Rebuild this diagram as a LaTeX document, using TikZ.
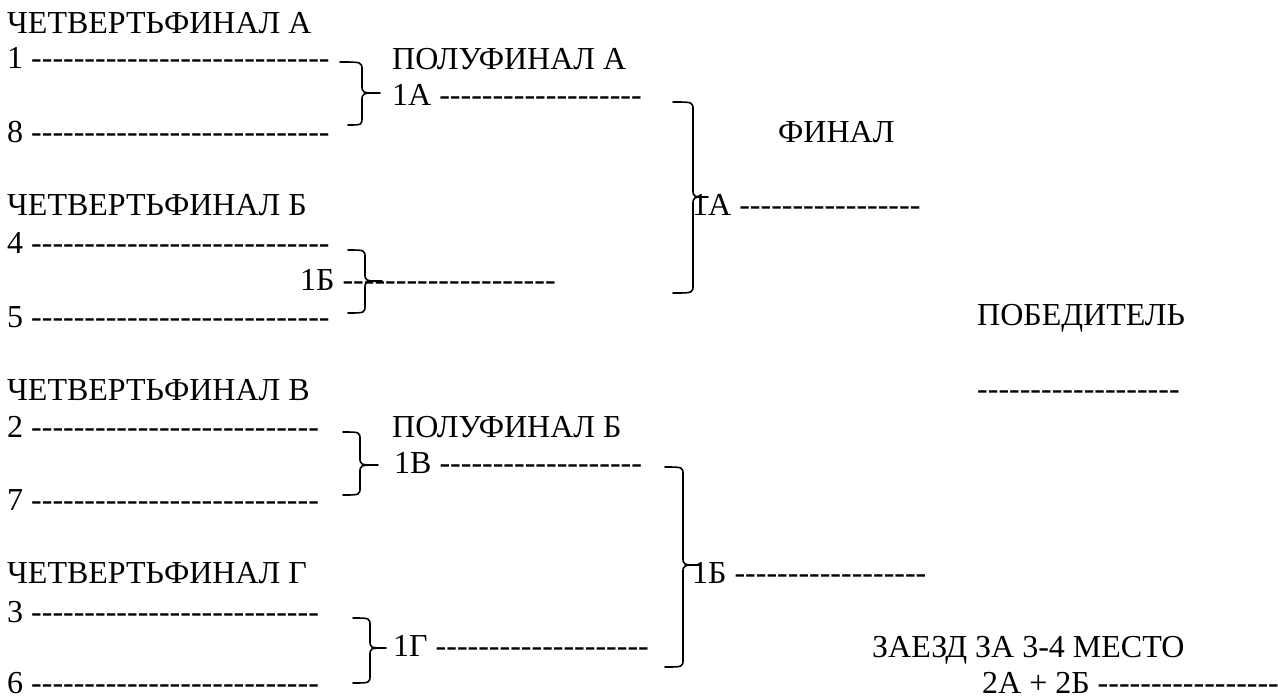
\documentclass[tikz,border=0pt]{standalone}
\usepackage{fontspec}
\setmainfont{Liberation Serif}[Ligatures=TeXOff]
\usetikzlibrary{calc}
\tikzset{
  lbl/.style={anchor=base west, inner sep=0pt, font=\fontsize{32}{38}\selectfont},
  brk/.style={line width=1.6pt, line cap=round, line join=round}
}
% right brace: top end, tip, bottom end, tip length
\newcommand\bracketR[4]{%
  \draw[brk] let \p1=(#1), \p2=(#2), \p3=(#3), \n1={\x2-#4} in
    (\p1) .. controls (\n1,\y1) .. (\n1,\y1-8pt)
    -- (\n1,\y2+8pt) .. controls (\n1,\y2) .. (\p2)
    .. controls (\n1,\y2) .. (\n1,\y2-8pt)
    -- (\n1,\y3+8pt) .. controls (\n1,\y3) .. (\p3);}
\begin{document}
\begin{tikzpicture}[x=1pt,y=-1pt]
		\useasboundingbox (0,0) rectangle (1278,697);
		%quarter finals
		\node[lbl] (qfA) at (7,33) {ЧЕТВЕРТЬФИНАЛ А};
		\node[lbl] (r1) at (7,68) {1 ----------------------------};
		\node[lbl] (r8) at (7,142) {8 ----------------------------};
		\node[lbl] (qfB) at (7,215) {ЧЕТВЕРТЬФИНАЛ Б};
		\node[lbl] (r4) at (7,253) {4 ----------------------------};
		\node[lbl] (r5) at (7,327) {5 ----------------------------};
		\node[lbl] (qfV) at (7,400) {ЧЕТВЕРТЬФИНАЛ В};
		\node[lbl] (r2) at (7,437) {2 ---------------------------};
		\node[lbl] (r7) at (7,510) {7 ---------------------------};
		\node[lbl] (qfG) at (7,583) {ЧЕТВЕРТЬФИНАЛ Г};
		\node[lbl] (r3) at (7,622) {3 ---------------------------};
		\node[lbl] (r6) at (7,693) {6 ---------------------------};
		%semi finals
		\node[lbl] (sfA) at (392,69) {ПОЛУФИНАЛ А};
		\node[lbl] (w1A) at (392,105) {1А -------------------};
		\node[lbl] (w1B) at (300,290) {1Б --------------------};
		\node[lbl] (sfB) at (392,437) {ПОЛУФИНАЛ Б};
		\node[lbl] (w1V) at (394,473) {1В -------------------};
		\node[lbl] (w1G) at (393,656) {1Г --------------------};
		%final
		\node[lbl] (fin) at (778,142) {ФИНАЛ};
		\node[lbl] (f1A) at (692,215) {1А -----------------};
		\node[lbl] (f1B) at (692,583) {1Б ------------------};
		\node[lbl] (win) at (977,325) {ПОБЕДИТЕЛЬ};
		\node[lbl] (winl) at (977,399) {-------------------};
		%third place
		\node[lbl] (thd) at (872,657) {ЗАЕЗД ЗА 3-4 МЕСТО};
		\node[lbl] (thdl) at (982,693) {2А + 2Б -----------------};
		%braces
		\coordinate (b1t) at (340,62);  \coordinate (b1m) at (380,93);  \coordinate (b1b) at (348,125);
		\coordinate (b2t) at (348,250); \coordinate (b2m) at (382,281); \coordinate (b2b) at (348,313);
		\coordinate (b3t) at (343,432); \coordinate (b3m) at (378,465); \coordinate (b3b) at (343,495);
		\coordinate (b4t) at (353,618); \coordinate (b4m) at (386,648); \coordinate (b4b) at (353,683);
		\coordinate (bAt) at (673,102); \coordinate (bAm) at (708,197); \coordinate (bAb) at (673,293);
		\coordinate (bBt) at (665,467); \coordinate (bBm) at (700,565); \coordinate (bBb) at (665,667);
		\bracketR{b1t}{b1m}{b1b}{18}
		\bracketR{b2t}{b2m}{b2b}{17}
		\bracketR{b3t}{b3m}{b3b}{18}
		\bracketR{b4t}{b4m}{b4b}{16}
		\bracketR{bAt}{bAm}{bAb}{15}
		\bracketR{bBt}{bBm}{bBb}{17}
\end{tikzpicture}
\end{document}
